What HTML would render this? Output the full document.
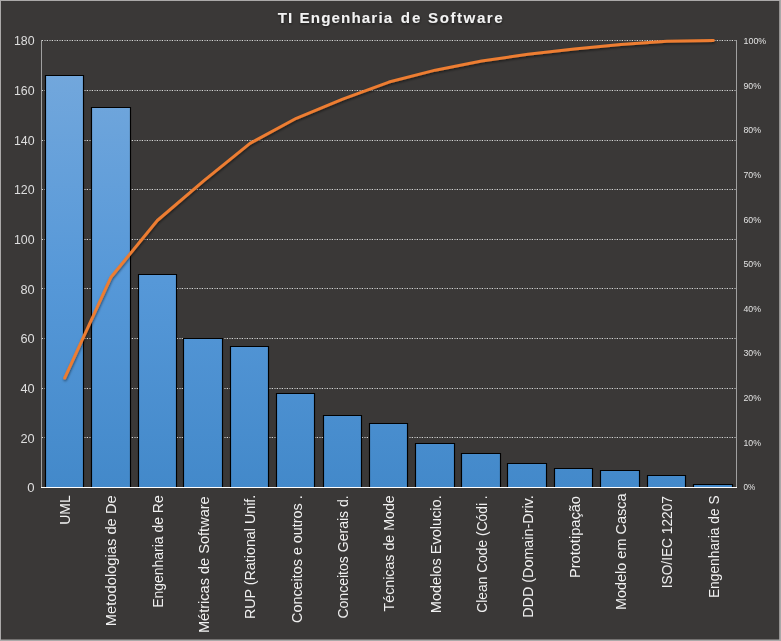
<!DOCTYPE html>
<html lang="pt"><head><meta charset="utf-8"><title>TI Engenharia de Software</title>
<style>html,body{margin:0;padding:0;background:#3a3837;overflow:hidden}svg{display:block}text{font-family:"Liberation Sans",sans-serif}</style></head><body>
<svg width="781" height="641" viewBox="0 0 781 641">
<defs>
<linearGradient id="bg" gradientUnits="userSpaceOnUse" x1="0" y1="75" x2="0" y2="487"><stop offset="0" stop-color="#72a7dc"/><stop offset="0.5" stop-color="#5698d8"/><stop offset="1" stop-color="#4389ca"/></linearGradient>
<filter id="ls" x="-5%" y="-5%" width="110%" height="115%"><feDropShadow dx="0.5" dy="1.5" stdDeviation="1.2" flood-color="#000" flood-opacity="0.5"/></filter>
<filter id="ts" x="-5%" y="-30%" width="110%" height="170%"><feDropShadow dx="0.3" dy="1.2" stdDeviation="0.9" flood-color="#000" flood-opacity="0.55"/></filter>
</defs>
<rect x="0" y="0" width="781" height="641" fill="#3a3837"/>
<line x1="42.00" y1="437.50" x2="736.00" y2="437.50" stroke="#8e8e8e" stroke-width="1" stroke-dasharray="2.5 2.5" stroke-dashoffset="-2"/>
<line x1="42.00" y1="437.50" x2="736.00" y2="437.50" stroke="#d6d6d6" stroke-width="1" stroke-dasharray="1 4"/>
<line x1="42.00" y1="388.50" x2="736.00" y2="388.50" stroke="#8e8e8e" stroke-width="1" stroke-dasharray="2.5 2.5" stroke-dashoffset="-2"/>
<line x1="42.00" y1="388.50" x2="736.00" y2="388.50" stroke="#d6d6d6" stroke-width="1" stroke-dasharray="1 4"/>
<line x1="42.00" y1="338.50" x2="736.00" y2="338.50" stroke="#8e8e8e" stroke-width="1" stroke-dasharray="2.5 2.5" stroke-dashoffset="-2"/>
<line x1="42.00" y1="338.50" x2="736.00" y2="338.50" stroke="#d6d6d6" stroke-width="1" stroke-dasharray="1 4"/>
<line x1="42.00" y1="288.50" x2="736.00" y2="288.50" stroke="#8e8e8e" stroke-width="1" stroke-dasharray="2.5 2.5" stroke-dashoffset="-2"/>
<line x1="42.00" y1="288.50" x2="736.00" y2="288.50" stroke="#d6d6d6" stroke-width="1" stroke-dasharray="1 4"/>
<line x1="42.00" y1="239.50" x2="736.00" y2="239.50" stroke="#8e8e8e" stroke-width="1" stroke-dasharray="2.5 2.5" stroke-dashoffset="-2"/>
<line x1="42.00" y1="239.50" x2="736.00" y2="239.50" stroke="#d6d6d6" stroke-width="1" stroke-dasharray="1 4"/>
<line x1="42.00" y1="189.50" x2="736.00" y2="189.50" stroke="#8e8e8e" stroke-width="1" stroke-dasharray="2.5 2.5" stroke-dashoffset="-2"/>
<line x1="42.00" y1="189.50" x2="736.00" y2="189.50" stroke="#d6d6d6" stroke-width="1" stroke-dasharray="1 4"/>
<line x1="42.00" y1="140.50" x2="736.00" y2="140.50" stroke="#8e8e8e" stroke-width="1" stroke-dasharray="2.5 2.5" stroke-dashoffset="-2"/>
<line x1="42.00" y1="140.50" x2="736.00" y2="140.50" stroke="#d6d6d6" stroke-width="1" stroke-dasharray="1 4"/>
<line x1="42.00" y1="90.50" x2="736.00" y2="90.50" stroke="#8e8e8e" stroke-width="1" stroke-dasharray="2.5 2.5" stroke-dashoffset="-2"/>
<line x1="42.00" y1="90.50" x2="736.00" y2="90.50" stroke="#d6d6d6" stroke-width="1" stroke-dasharray="1 4"/>
<line x1="42.00" y1="40.50" x2="736.00" y2="40.50" stroke="#8e8e8e" stroke-width="1" stroke-dasharray="2.5 2.5" stroke-dashoffset="-2"/>
<line x1="42.00" y1="40.50" x2="736.00" y2="40.50" stroke="#d6d6d6" stroke-width="1" stroke-dasharray="1 4"/>
<path d="M45.5 487V75.5H83.5V487" fill="url(#bg)" stroke="#000" stroke-width="1.15"/>
<path d="M91.5 487V107.5H130.5V487" fill="url(#bg)" stroke="#000" stroke-width="1.15"/>
<path d="M138.5 487V274.5H176.5V487" fill="url(#bg)" stroke="#000" stroke-width="1.15"/>
<path d="M183.5 487V338.5H222.5V487" fill="url(#bg)" stroke="#000" stroke-width="1.15"/>
<path d="M230.5 487V346.5H268.5V487" fill="url(#bg)" stroke="#000" stroke-width="1.15"/>
<path d="M276.5 487V393.5H314.5V487" fill="url(#bg)" stroke="#000" stroke-width="1.15"/>
<path d="M323.5 487V415.5H361.5V487" fill="url(#bg)" stroke="#000" stroke-width="1.15"/>
<path d="M369.5 487V423.5H407.5V487" fill="url(#bg)" stroke="#000" stroke-width="1.15"/>
<path d="M415.5 487V443.5H454.5V487" fill="url(#bg)" stroke="#000" stroke-width="1.15"/>
<path d="M461.5 487V453.5H500.5V487" fill="url(#bg)" stroke="#000" stroke-width="1.15"/>
<path d="M507.5 487V463.5H546.5V487" fill="url(#bg)" stroke="#000" stroke-width="1.15"/>
<path d="M554.5 487V468.5H592.5V487" fill="url(#bg)" stroke="#000" stroke-width="1.15"/>
<path d="M600.5 487V470.5H639.5V487" fill="url(#bg)" stroke="#000" stroke-width="1.15"/>
<path d="M647.5 487V475.5H685.5V487" fill="url(#bg)" stroke="#000" stroke-width="1.15"/>
<path d="M693.5 487V484.5H732.5V487" fill="url(#bg)" stroke="#000" stroke-width="1.15"/>
<line x1="41.50" y1="40.00" x2="41.50" y2="488.00" stroke="#a0a0a0" stroke-width="1"/>
<line x1="736.50" y1="40.00" x2="736.50" y2="488.00" stroke="#a0a0a0" stroke-width="1"/>
<line x1="41.00" y1="487.50" x2="737.00" y2="487.50" stroke="#ffffff" stroke-width="1.05"/>
<polyline points="64.67,378.06 111.00,277.19 157.33,220.49 203.67,180.93 250.00,143.35 296.33,118.30 342.67,99.18 389.00,82.04 435.33,70.17 481.67,60.94 528.00,54.35 574.33,49.07 620.67,44.46 667.00,41.16 713.33,40.50" fill="none" stroke="#ed7d31" stroke-width="3" stroke-linecap="round" stroke-linejoin="round" filter="url(#ls)"/>
<text x="27.30" y="492.40" font-size="12.6" fill="#dedede" textLength="7.3" lengthAdjust="spacingAndGlyphs">0</text>
<text x="20.40" y="442.73" font-size="12.6" fill="#dedede" textLength="14.2" lengthAdjust="spacingAndGlyphs">20</text>
<text x="20.40" y="393.07" font-size="12.6" fill="#dedede" textLength="14.2" lengthAdjust="spacingAndGlyphs">40</text>
<text x="20.40" y="343.40" font-size="12.6" fill="#dedede" textLength="14.2" lengthAdjust="spacingAndGlyphs">60</text>
<text x="20.40" y="293.73" font-size="12.6" fill="#dedede" textLength="14.2" lengthAdjust="spacingAndGlyphs">80</text>
<text x="14.00" y="244.07" font-size="12.6" fill="#dedede" textLength="20.6" lengthAdjust="spacingAndGlyphs">100</text>
<text x="14.00" y="194.40" font-size="12.6" fill="#dedede" textLength="20.6" lengthAdjust="spacingAndGlyphs">120</text>
<text x="14.00" y="144.73" font-size="12.6" fill="#dedede" textLength="20.6" lengthAdjust="spacingAndGlyphs">140</text>
<text x="14.00" y="95.07" font-size="12.6" fill="#dedede" textLength="20.6" lengthAdjust="spacingAndGlyphs">160</text>
<text x="14.00" y="45.40" font-size="12.6" fill="#dedede" textLength="20.6" lengthAdjust="spacingAndGlyphs">180</text>
<text x="743.5" y="490.15" font-size="9.3" fill="#e2e2e2" textLength="11.8" lengthAdjust="spacingAndGlyphs">0%</text>
<text x="743.5" y="445.56" font-size="9.3" fill="#e2e2e2" textLength="17.5" lengthAdjust="spacingAndGlyphs">10%</text>
<text x="743.5" y="400.98" font-size="9.3" fill="#e2e2e2" textLength="17.5" lengthAdjust="spacingAndGlyphs">20%</text>
<text x="743.5" y="356.40" font-size="9.3" fill="#e2e2e2" textLength="17.5" lengthAdjust="spacingAndGlyphs">30%</text>
<text x="743.5" y="311.81" font-size="9.3" fill="#e2e2e2" textLength="17.5" lengthAdjust="spacingAndGlyphs">40%</text>
<text x="743.5" y="267.23" font-size="9.3" fill="#e2e2e2" textLength="17.5" lengthAdjust="spacingAndGlyphs">50%</text>
<text x="743.5" y="222.64" font-size="9.3" fill="#e2e2e2" textLength="17.5" lengthAdjust="spacingAndGlyphs">60%</text>
<text x="743.5" y="178.06" font-size="9.3" fill="#e2e2e2" textLength="17.5" lengthAdjust="spacingAndGlyphs">70%</text>
<text x="743.5" y="133.47" font-size="9.3" fill="#e2e2e2" textLength="17.5" lengthAdjust="spacingAndGlyphs">80%</text>
<text x="743.5" y="88.88" font-size="9.3" fill="#e2e2e2" textLength="17.5" lengthAdjust="spacingAndGlyphs">90%</text>
<text x="743.5" y="44.30" font-size="9.3" fill="#e2e2e2" textLength="22.8" lengthAdjust="spacingAndGlyphs">100%</text>
<text transform="translate(69.90,524.80) rotate(-90)" font-size="15" fill="#f0f0f0" textLength="29.5" lengthAdjust="spacingAndGlyphs">UML</text>
<text transform="translate(116.23,626.20) rotate(-90)" font-size="15" fill="#f0f0f0" textLength="130.9" lengthAdjust="spacingAndGlyphs">Metodologias de De</text>
<text transform="translate(162.57,607.80) rotate(-90)" font-size="15" fill="#f0f0f0" textLength="112.5" lengthAdjust="spacingAndGlyphs">Engenharia de Re</text>
<text transform="translate(208.90,633.10) rotate(-90)" font-size="15" fill="#f0f0f0" textLength="136.8" lengthAdjust="spacingAndGlyphs">Métricas de Software</text>
<text transform="translate(255.23,619.10) rotate(-90)" font-size="15" fill="#f0f0f0" textLength="124.4" lengthAdjust="spacingAndGlyphs">RUP (Rational Unif.</text>
<text transform="translate(301.57,622.90) rotate(-90)" font-size="15" fill="#f0f0f0" textLength="127.6" lengthAdjust="spacingAndGlyphs">Conceitos e outros .</text>
<text transform="translate(347.90,618.60) rotate(-90)" font-size="15" fill="#f0f0f0" textLength="123.3" lengthAdjust="spacingAndGlyphs">Conceitos Gerais d.</text>
<text transform="translate(394.23,611.40) rotate(-90)" font-size="15" fill="#f0f0f0" textLength="116.1" lengthAdjust="spacingAndGlyphs">Técnicas de Mode</text>
<text transform="translate(440.57,613.20) rotate(-90)" font-size="15" fill="#f0f0f0" textLength="117.9" lengthAdjust="spacingAndGlyphs">Modelos Evolucio.</text>
<text transform="translate(486.90,612.70) rotate(-90)" font-size="15" fill="#f0f0f0" textLength="117.4" lengthAdjust="spacingAndGlyphs">Clean Code (Códi .</text>
<text transform="translate(533.23,617.80) rotate(-90)" font-size="15" fill="#f0f0f0" textLength="122.5" lengthAdjust="spacingAndGlyphs">DDD (Domain-Driv.</text>
<text transform="translate(579.57,578.10) rotate(-90)" font-size="15" fill="#f0f0f0" textLength="82.1" lengthAdjust="spacingAndGlyphs">Prototipação</text>
<text transform="translate(625.90,610.10) rotate(-90)" font-size="15" fill="#f0f0f0" textLength="116.6" lengthAdjust="spacingAndGlyphs">Modelo em Casca</text>
<text transform="translate(672.23,588.30) rotate(-90)" font-size="15" fill="#f0f0f0" textLength="92.3" lengthAdjust="spacingAndGlyphs">ISO/IEC 12207</text>
<text transform="translate(718.57,598.10) rotate(-90)" font-size="15" fill="#f0f0f0" textLength="102.8" lengthAdjust="spacingAndGlyphs">Engenharia de S</text>
<g filter="url(#ts)" font-weight="bold" font-size="15" fill="#f2f2f2">
<text transform="translate(277.7,22.5) scale(1.012,1)" letter-spacing="0.97">TI</text>
<text transform="translate(299.6,22.5) scale(1.012,1)" letter-spacing="1.09">Engenharia</text>
<text transform="translate(400.7,22.5) scale(1.012,1)" letter-spacing="2.10">de</text>
<text transform="translate(428.1,22.5) scale(1.012,1)" letter-spacing="1.49">Software</text>
</g>
<rect x="0" y="0" width="781" height="1" fill="#aba9a9"/>
<rect x="0" y="0" width="1" height="641" fill="#aba9a9"/>
<rect x="779.2" y="0" width="1.8" height="641" fill="#aba9a9"/>
<rect x="0" y="639.5" width="781" height="1.5" fill="#aba9a9"/>
</svg></body></html>
